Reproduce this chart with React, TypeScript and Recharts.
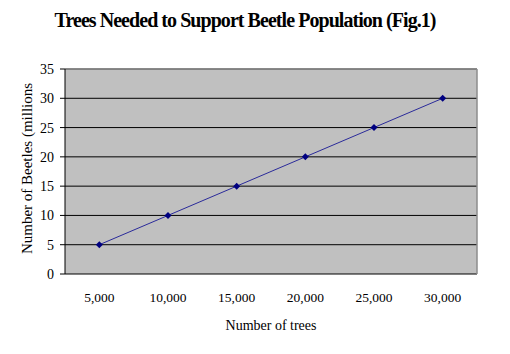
import { CartesianGrid, ComposedChart, Line, ReferenceLine, XAxis, YAxis } from "recharts";

const trees = [5000, 10000, 15000, 20000, 25000, 30000];
const beetles = [5, 10, 15, 20, 25, 30];
const bandEdges = [2500, 7500, 12500, 17500, 22500, 27500, 32500];
const yTicks = [0, 5, 10, 15, 20, 25, 30, 35];

const FONT = "'Liberation Serif', 'Times New Roman', serif";

const data = trees.map((t, i) => ({ trees: t, beetles: beetles[i] }));

const Diamond = (props: any) => {
  const { cx, cy } = props;
  if (cx == null || cy == null) return null;
  const s = 3.5;
  return (
    <path
      d={`M${cx},${cy - s}L${cx + s},${cy}L${cx},${cy + s}L${cx - s},${cy}Z`}
      fill="#000080"
    />
  );
};

const YLabel = (props: any) => {
  const vb = props.viewBox || { x: 0, y: 0, width: 0, height: 0 };
  const x = vb.x + 27;
  const y = vb.y + vb.height / 2 - 3;
  return (
    <text
      x={x}
      y={y}
      transform={`rotate(-90, ${x}, ${y})`}
      textAnchor="middle"
      dominantBaseline="central"
      fontFamily={FONT}
      fontSize={15}
      fill="#000"
    >
      Number of Beetles (millions
    </text>
  );
};

export default function App() {
  return (
    <div
      style={{
        position: "absolute",
        left: 0,
        top: 0,
        width: 510,
        height: 354,
        background: "#fff",
        fontFamily: FONT,
      }}
    >
      <div
        style={{
          position: "absolute",
          top: 9,
          left: 0,
          width: 490,
          textAlign: "center",
          fontSize: 20,
          fontWeight: "bold",
          letterSpacing: -0.95,
          whiteSpace: "nowrap",
          color: "#000",
        }}
      >
        Trees Needed to Support Beetle Population (Fig.1)
      </div>
      <ComposedChart
        width={510}
        height={354}
        data={data}
        margin={{ top: 69, right: 33, bottom: 20, left: 0 }}
        style={{ position: "absolute", left: 0, top: 0 }}
      >
        <CartesianGrid
          vertical={false}
          fill="#c0c0c0"
          fillOpacity={1}
          stroke="#000"
          strokeWidth={1}
        />
        <XAxis
          xAxisId="edges"
          dataKey="trees"
          type="number"
          domain={[2500, 32500]}
          ticks={bandEdges}
          tick={false}
          tickSize={5}
          height={0}
          axisLine={{ stroke: "#404040" }}
          tickLine={{ stroke: "#000" }}
        />
        <XAxis
          xAxisId="labels"
          dataKey="trees"
          type="number"
          domain={[2500, 32500]}
          ticks={trees}
          axisLine={false}
          tickLine={false}
          tickSize={5}
          tickMargin={13}
          height={60}
          tickFormatter={(v: number) => v.toLocaleString("en-US")}
          tick={{ fill: "#000", fontSize: 13.5, fontFamily: FONT }}
          label={{
            value: "Number of trees",
            position: "insideBottom",
            offset: 4,
            fill: "#000",
            fontSize: 14,
            fontFamily: FONT,
          }}
        />
        <YAxis
          type="number"
          domain={[0, 35]}
          ticks={yTicks}
          width={65}
          tickSize={5}
          tickMargin={6}
          axisLine={{ stroke: "#000" }}
          tickLine={{ stroke: "#000" }}
          tick={{ fill: "#000", fontSize: 14, fontFamily: FONT }}
          label={<YLabel />}
        />
        <ReferenceLine y={35} xAxisId="labels" stroke="#8c8c8c" strokeWidth={1.5} />
        <ReferenceLine x={32500} xAxisId="labels" stroke="#8c8c8c" strokeWidth={1.5} />
        <Line
          xAxisId="labels"
          dataKey="beetles"
          stroke="#2a2a9a"
          strokeWidth={1}
          dot={<Diamond />}
          activeDot={false}
          isAnimationActive={false}
        />
      </ComposedChart>
    </div>
  );
}
